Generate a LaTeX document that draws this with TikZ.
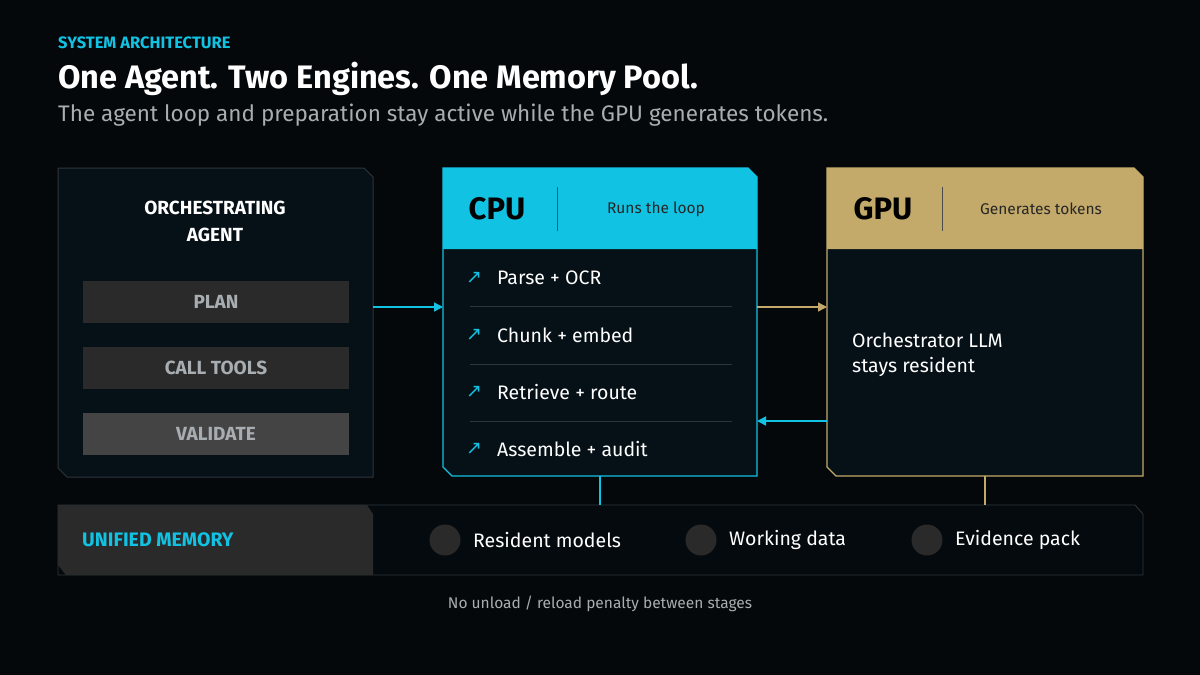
\documentclass[tikz,border=0pt]{standalone}
\usepackage{fontspec}
\setmainfont{Fira Sans}
\newfontfamily\sym{DejaVu Sans}
\usetikzlibrary{arrows.meta}
\definecolor{bg}{HTML}{04080B}
\definecolor{panel}{HTML}{061017}
\definecolor{cy}{HTML}{12C2E3}
\definecolor{gd}{HTML}{C4AA6A}
\definecolor{btn}{HTML}{2A2A2A}
\definecolor{btn2}{HTML}{444444}
\definecolor{edge}{HTML}{2E363C}
\definecolor{sub}{HTML}{A8ADB2}
\tikzset{
 x=1pt,y=-1pt,
 txt/.style={inner sep=0pt,text=white},
 btnn/.style={fill=btn,minimum width=266pt,minimum height=42pt,inner sep=0pt,text=sub,font=\fontsize{19}{20}\selectfont\bfseries},
 sep/.style={draw=edge,line width=0.6pt},
 arr/.style={line width=1.4pt,-{Triangle[length=9pt,width=9pt]}},
 item/.style={txt,anchor=west,font=\fontsize{19.5}{22}\selectfont},
 ico/.style={txt,text=cy,font=\sym\fontsize{19}{20}\selectfont},
 dot/.style={circle,fill=btn,minimum size=31pt,inner sep=0pt},
}
\newcommand\chamf[5]{% x1 y1 x2 y2 style
 \path[#5] (#1,#2) -- ({#3-9},#2) -- (#3,{#2+9}) -- (#3,#4) -- ({#1+9},#4) -- (#1,{#4-9}) -- cycle;}
\begin{document}
\begin{tikzpicture}
\fill[bg] (0,0) rectangle (1200,675);
\useasboundingbox (0,0) rectangle (1200,675);
% titles
\node[txt,anchor=west,text=cy,font=\fontsize{16.5}{18}\selectfont\bfseries] (kick) at (58,43) {SYSTEM ARCHITECTURE};
\node[txt,anchor=west,font=\fontsize{32.5}{34}\selectfont\bfseries] (title) at (58,79) {One Agent. Two Engines. One Memory Pool.};
\node[txt,anchor=west,text=sub,font=\fontsize{22.5}{25}\selectfont] (subt) at (58,115) {The agent loop and preparation stay active while the GPU generates tokens.};
% left panel
\chamf{58}{168}{373}{477}{fill=panel,draw=edge,line width=1pt}
\node[txt,align=center,font=\fontsize{19}{27}\selectfont\bfseries] (agent) at (215,221) {ORCHESTRATING\\AGENT};
\node[btnn] (plan) at (216,302) {PLAN};
\node[btnn] (call) at (216,368) {CALL TOOLS};
\node[btnn,fill=btn2] (valid) at (216,434) {VALIDATE};
\coordinate (agentR) at (373,307);
% CPU panel
\chamf{443}{168}{757}{476}{fill=panel,draw=cy,line width=1.2pt}
\path[fill=cy] (443,168) -- (748,168) -- (757,177) -- (757,249) -- (443,249) -- cycle;
\node[txt,text=black,font=\fontsize{31}{32}\selectfont\bfseries] (cpu) at (497,209) {CPU};
\draw[black!70,line width=1pt] (557,187) -- (557,231);
\node[txt,text=black!85,font=\fontsize{15.5}{16}\selectfont] (cpus) at (656,209) {Runs the loop};
\foreach \y/\t in {278/Parse + OCR,335/Chunk + embed,392/Retrieve + route,449/Assemble + audit}{
 \node[ico] at (474,\y) {↗};
 \node[item] at (497,\y) {\t};
}
\foreach \y in {306,364,421} \draw[sep] (470,\y) -- (732,\y);
\coordinate (cpuL) at (443,307);
\coordinate (cpuR) at (757,307);
\coordinate (cpuR2) at (757,421);
\coordinate (cpuB) at (600,476);
% GPU panel
\chamf{827}{168}{1143}{476}{fill=panel,draw=gd,line width=1.2pt}
\path[fill=gd] (827,168) -- (1134,168) -- (1143,177) -- (1143,249) -- (827,249) -- cycle;
\node[txt,text=black,font=\fontsize{31}{32}\selectfont\bfseries] (gpu) at (883,209) {GPU};
\draw[black!70,line width=1pt] (942,187) -- (942,231);
\node[txt,text=black!85,font=\fontsize{15.5}{16}\selectfont] (gpus) at (1041,209) {Generates tokens};
\node[txt,anchor=west,align=left,font=\fontsize{19.5}{25}\selectfont] (llm) at (852,355) {Orchestrator LLM\\stays resident};
\coordinate (gpuL) at (827,307);
\coordinate (gpuL2) at (827,421);
\coordinate (gpuB) at (985,476);
% arrows
\draw[arr,cy] (agentR) -- (cpuL);
\draw[arr,gd] (cpuR) -- (gpuL);
\draw[arr,cy] (gpuL2) -- (cpuR2);
% memory bar
\path[fill=panel!60!black,draw=edge,line width=0.8pt] (58,505) -- (1135,505) -- (1143,514) -- (1143,575) -- (58,575) -- cycle;
\path[fill=btn] (58,505) -- (367,505) -- (373,514) -- (373,575) -- (66,575) -- (58,565) -- cycle;
\coordinate (memT1) at (600,505);
\coordinate (memT2) at (985,505);
\draw[cy,line width=1.2pt] (cpuB) -- (memT1);
\draw[gd,line width=1.2pt] (gpuB) -- (memT2);
\node[txt,anchor=west,text=cy,font=\fontsize{19.5}{20}\selectfont\bfseries] (um) at (82,540) {UNIFIED MEMORY};
\node[dot] (d1) at (445,540) {};
\node[item] at (473,540) {Resident models};
\node[dot] (d2) at (701,540) {};
\node[item] at (729,540) {Working data};
\node[dot] (d3) at (927,540) {};
\node[item] at (955,540) {Evidence pack};
\node[txt,text=sub,font=\fontsize{15.5}{16}\selectfont] (note) at (600,604) {No unload / reload penalty between stages};
\end{tikzpicture}
\end{document}
